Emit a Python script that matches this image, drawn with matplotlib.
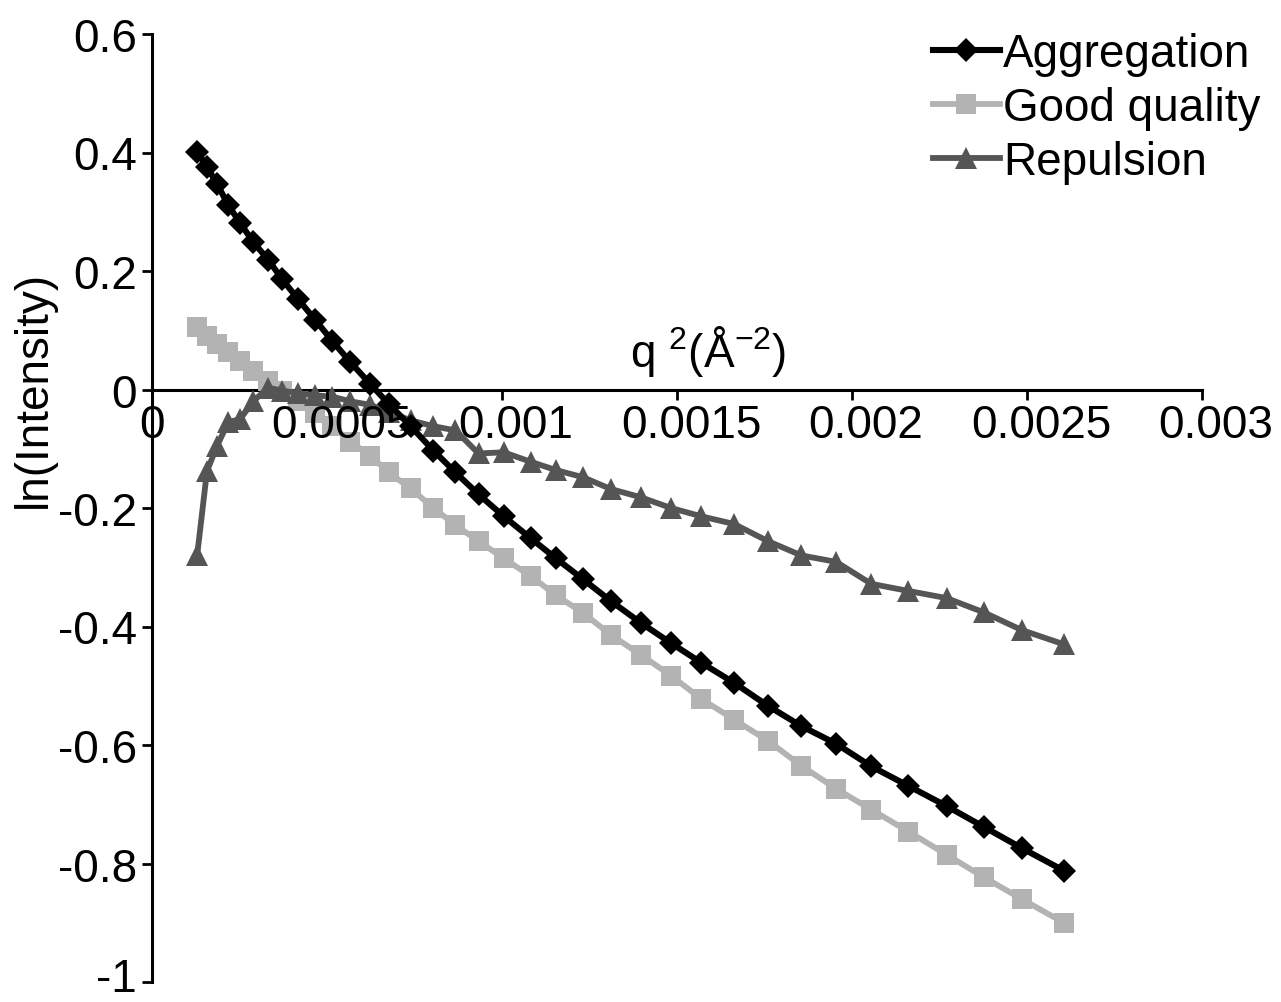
import matplotlib
matplotlib.use('Agg')
import matplotlib.pyplot as plt
from matplotlib.transforms import ScaledTranslation

plt.rcParams['font.family'] = ['Liberation Sans', 'DejaVu Sans']
plt.rcParams['mathtext.default'] = 'regular'

# q^2 values (1/A^2)
q2 = [0.000129, 0.000157, 0.000186, 0.000218, 0.000252, 0.000289, 0.000332, 0.000372,
      0.000418, 0.000467, 0.000515, 0.000567, 0.000624, 0.000676, 0.000739, 0.000804,
      0.000867, 0.000933, 0.001005, 0.001082, 0.001154, 0.001231, 0.001311, 0.001397,
      0.001483, 0.001569, 0.001663, 0.001760, 0.001855, 0.001955, 0.002055, 0.002161,
      0.002270, 0.002376, 0.002485, 0.002605]

aggregation = [0.401, 0.376, 0.347, 0.311, 0.281, 0.249, 0.219, 0.186, 0.152, 0.117,
               0.082, 0.046, 0.009, -0.024, -0.062, -0.103, -0.140, -0.177, -0.214, -0.251,
               -0.285, -0.320, -0.357, -0.394, -0.428, -0.461, -0.495, -0.534, -0.568, -0.598,
               -0.636, -0.669, -0.703, -0.738, -0.774, -0.812]

good_quality = [0.106, 0.091, 0.077, 0.063, 0.048, 0.032, 0.015, -0.002, -0.020, -0.040,
                -0.062, -0.088, -0.112, -0.140, -0.167, -0.200, -0.229, -0.256, -0.285, -0.315,
                -0.347, -0.377, -0.414, -0.448, -0.483, -0.522, -0.557, -0.593, -0.635, -0.674,
                -0.709, -0.746, -0.785, -0.823, -0.860, -0.900]

repulsion = [-0.280, -0.138, -0.095, -0.055, -0.050, -0.020, 0.003, -0.002, -0.006, -0.010,
             -0.012, -0.020, -0.026, -0.038, -0.052, -0.062, -0.069, -0.108, -0.106, -0.122,
             -0.136, -0.148, -0.168, -0.182, -0.200, -0.214, -0.227, -0.256, -0.280, -0.291,
             -0.328, -0.340, -0.352, -0.376, -0.406, -0.430]

x_ticks = [0, 0.0005, 0.001, 0.0015, 0.002, 0.0025, 0.003]
x_tick_labels = ['0', '0.0005', '0.001', '0.0015', '0.002', '0.0025', '0.003']
y_ticks = [-1, -0.8, -0.6, -0.4, -0.2, 0, 0.2, 0.4, 0.6]
y_tick_labels = ['-1', '-0.8', '-0.6', '-0.4', '-0.2', '0', '0.2', '0.4', '0.6']

fig = plt.figure(figsize=(12.81, 10.03), dpi=100)
ax = fig.add_axes([152 / 1281, 20 / 1003, 1050 / 1281, 948 / 1003])

l_good, = ax.plot(q2, good_quality, color='#b3b3b3', marker='s', ms=15, lw=4.2, mew=0,
                  label='Good quality', zorder=2)
l_rep, = ax.plot(q2, repulsion, color='#555555', marker='^', ms=16, lw=4.2, mew=0,
                 label='Repulsion', zorder=3)
l_agg, = ax.plot(q2, aggregation, color='black', marker='D', ms=12, lw=4.4, mew=0,
                 label='Aggregation', zorder=4)

ax.set_xlim(0, 0.003)
ax.set_ylim(-1, 0.6)

for s in ['top', 'right']:
    ax.spines[s].set_visible(False)
ax.spines['bottom'].set_position(('data', 0))
for s in ['left', 'bottom']:
    ax.spines[s].set_linewidth(2.2)
    ax.spines[s].set_zorder(1)

ax.set_xticks(x_ticks)
ax.set_xticklabels(x_tick_labels)
ax.set_yticks(y_ticks)
ax.set_yticklabels(y_tick_labels)
ax.tick_params(axis='both', direction='out', length=7.5, width=2, labelsize=33)
ax.tick_params(axis='x', pad=2)
ax.tick_params(axis='y', pad=3.5)
ax.xaxis.set_zorder(5)
ax.yaxis.set_zorder(5)

# x labels sit slightly right of their ticks in the original
for lab in ax.get_xticklabels()[1:]:
    lab.set_transform(lab.get_transform() + ScaledTranslation(0.14, 0, fig.dpi_scale_trans))

# keep the "-1" label inside the canvas
bottom_lab = ax.get_yticklabels()[0]
bottom_lab.set_transform(bottom_lab.get_transform() + ScaledTranslation(0, 0.08, fig.dpi_scale_trans))

ax.set_ylabel('ln(Intensity)', fontsize=33)
ax.yaxis.set_label_coords(-0.092, 0.6257)

ax.text(0.00159, 0.04, 'q $^{2}$(Å$^{-2}$)', fontsize=33, ha='center', va='baseline')

ax.legend(handles=[l_agg, l_good, l_rep], loc='upper left',
          bbox_to_anchor=(933 / 1281, 1 - 33 / 1003), bbox_transform=fig.transFigure,
          frameon=False, fontsize=33, handlelength=1.46, handletextpad=0.07,
          labelspacing=0.22, borderpad=0, borderaxespad=0)

fig.savefig('out.png', dpi=100)
